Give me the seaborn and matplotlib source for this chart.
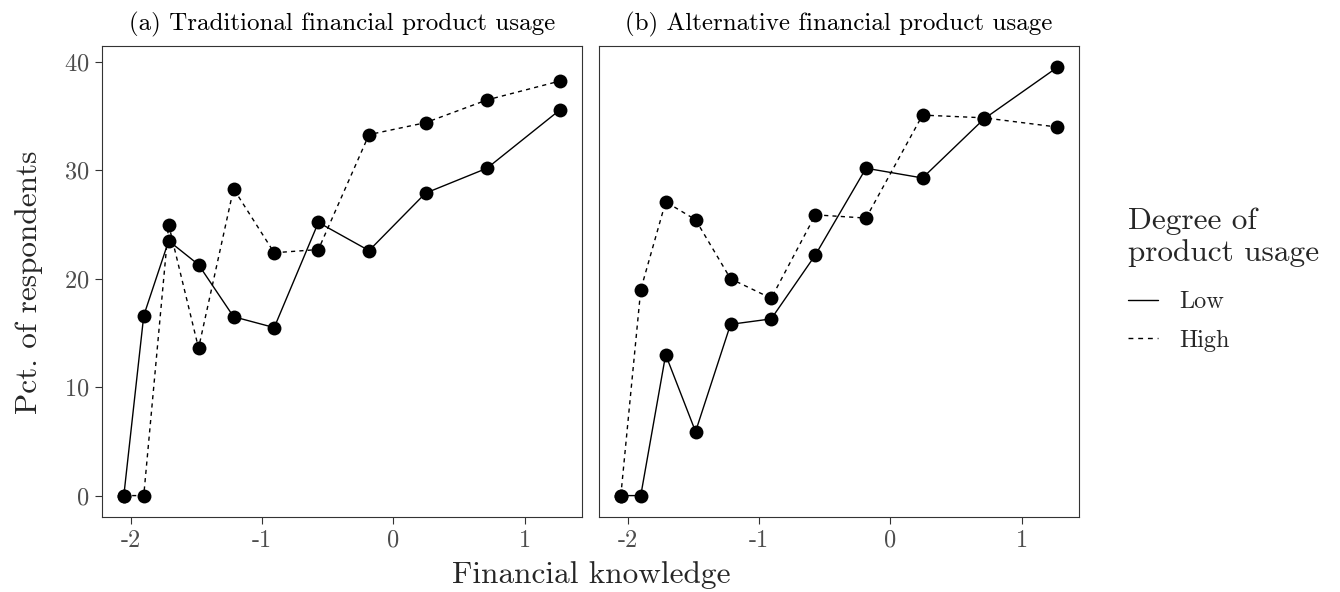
import matplotlib
matplotlib.use("Agg")
import matplotlib.pyplot as plt
import seaborn as sns
import pandas as pd
from matplotlib.lines import Line2D

# Valeurs
knowledge = [-2.056, -1.904, -1.714, -1.486, -1.219, -0.909, -0.572, -0.186, 0.245, 0.714, 1.272]
trad_low = [0, 16.6, 23.5, 21.3, 16.5, 15.5, 25.2, 22.6, 27.9, 30.2, 35.6]
trad_high = [0, 0, 25.0, 13.6, 28.3, 22.4, 22.7, 33.3, 34.4, 36.5, 38.25]
alt_low = [0, 0, 13.0, 5.9, 15.8, 16.3, 22.2, 30.2, 29.3, 34.75, 39.5]
alt_high = [0, 19.0, 27.1, 25.45, 20.0, 18.2, 25.9, 25.6, 35.1, 34.85, 34.0]
panel_titles = ["(a) Traditional financial product usage", "(b) Alternative financial product usage"]
usage_levels = ["Low", "High"]
x_ticks = [-2, -1, 0, 1]
x_tick_labels = ["-2", "-1", "0", "1"]
y_ticks = [0, 10, 20, 30, 40]

rows = []
for panel, low, high in [(panel_titles[0], trad_low, trad_high), (panel_titles[1], alt_low, alt_high)]:
    for level, vals in zip(usage_levels, [low, high]):
        for k, v in zip(knowledge, vals):
            rows.append({"panel": panel, "usage": level, "knowledge": k, "pct": v})
df = pd.DataFrame(rows)

sns.set_theme(style="ticks")
plt.rcParams["font.family"] = ["cmr10", "DejaVu Serif"]
plt.rcParams["mathtext.fontset"] = "cm"
plt.rcParams["axes.unicode_minus"] = False
plt.rcParams["axes.formatter.use_mathtext"] = True

fig = plt.figure(figsize=(13.4, 5.92), dpi=100)
W, H = 1340, 592
ax1 = fig.add_axes([102 / W, 1 - 517 / H, 480 / W, 471 / H])
ax2 = fig.add_axes([599 / W, 1 - 517 / H, 480 / W, 471 / H])

dash_map = {"Low": "", "High": (3, 3)}
for ax, title in zip([ax1, ax2], panel_titles):
    sub = df[df["panel"] == title]
    sns.lineplot(
        data=sub, x="knowledge", y="pct", style="usage", style_order=usage_levels,
        dashes=dash_map, markers={"Low": "o", "High": "o"}, color="black",
        markersize=10, markeredgewidth=0, linewidth=1.0, ax=ax, legend=False,
    )
    ax.set_xlim(-2.2224, 1.4384)
    ax.set_ylim(-1.975, 41.475)
    ax.set_xticks(x_ticks)
    ax.set_xticklabels(x_tick_labels)
    ax.set_yticks(y_ticks)
    ax.set_xlabel("")
    ax.set_ylabel("")
    ax.set_title(title, fontsize=18, pad=11, color="black")
    for sp in ax.spines.values():
        sp.set_visible(True)
        sp.set_color("#333333")
        sp.set_linewidth(0.8)
    ax.tick_params(axis="both", colors="#333333", labelcolor="#4D4D4D",
                   labelsize=17.5, length=5, width=0.8, pad=4)

ax2.tick_params(axis="y", left=False, labelleft=False)

fig.text(591 / W, 1 - 583 / H, "Financial knowledge", ha="center", va="baseline", fontsize=22.5)
fig.text(29 / W, 1 - 282 / H, "Pct. of respondents", ha="center", va="center",
         rotation=90, fontsize=22.5)

handles = [
    Line2D([], [], color="black", linewidth=1.0, linestyle="-"),
    Line2D([], [], color="black", linewidth=1.0, linestyle=(0, (3.5, 3.5))),
]
leg = fig.legend(
    handles, usage_levels, title="Degree of\nproduct usage",
    loc="upper left", bbox_to_anchor=(1118 / W, 1 - 197 / H),
    frameon=False, fontsize=17.5, title_fontsize=22.5, alignment="left",
    handlelength=1.25, handletextpad=0.85, labelspacing=0.66, borderaxespad=0,
)
# un peu plus d'espace entre le titre de la légende et les entrées
leg._legend_box.sep = 0.66 * 17.5 + 6

fig.savefig("out.png", dpi=100)
